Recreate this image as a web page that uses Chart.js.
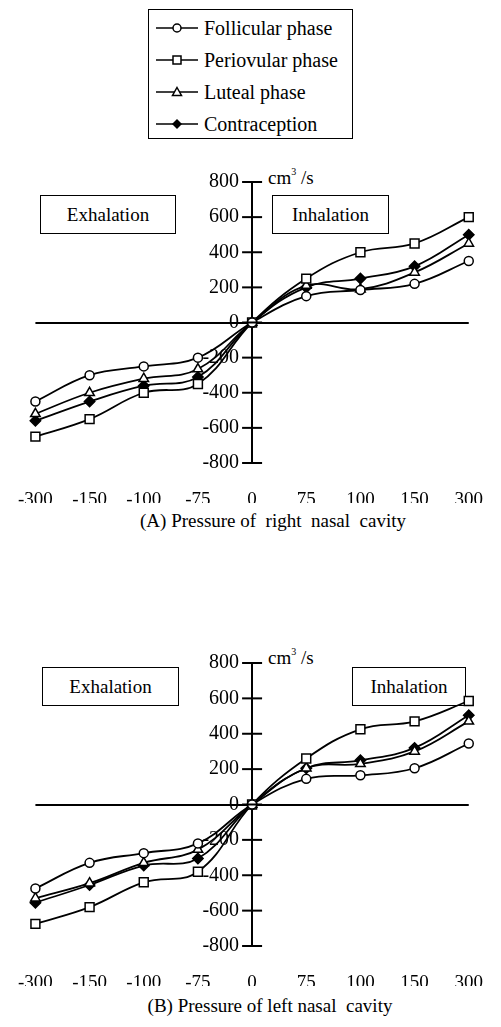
<!DOCTYPE html>
<html>
<head>
<meta charset="utf-8">
<script src="https://cdn.jsdelivr.net/npm/chart.js@4.4.1/dist/chart.umd.min.js"></script>
<style>
  html, body { margin: 0; padding: 0; background: #fff; }
  body { width: 501px; height: 1027px; position: relative; overflow: hidden;
         font-family: "Liberation Serif", "Times New Roman", serif; color: #000; }
  .abs { position: absolute; }
  #legend { left: 148px; top: 9px; width: 203px; height: 128px; border: 1.5px solid #000; }
  .row { position: absolute; left: 6px; height: 24px; display: flex; align-items: center; font-size: 20px; white-space: nowrap; }
  .row svg { margin-right: 5px; }
  .box { border: 1.3px solid #000; font-size: 19px; display: flex; align-items: center; justify-content: center; box-sizing: border-box; }
  .unit { font-size: 19px; white-space: nowrap; }
  .unit sup { font-size: 10px; vertical-align: 9px; }
  .title { font-size: 19px; white-space: pre; transform: translateX(-50%); }
  canvas { position: absolute; left: 0; }
</style>
</head>
<body>
<div id="legend" class="abs"></div>

<div class="abs box" style="left:40px;top:195px;width:136px;height:39px;">Exhalation</div>
<div class="abs box" style="left:272px;top:195px;width:117px;height:39px;">Inhalation</div>
<div class="abs unit" style="left:268px;top:166px;">cm<sup>3</sup> /s</div>
<div class="abs title" style="left:273px;top:510px;">(A) Pressure of  right  nasal  cavity</div>

<div class="abs box" style="left:42px;top:667px;width:137px;height:39px;">Exhalation</div>
<div class="abs box" style="left:352px;top:667px;width:114px;height:39px;">Inhalation</div>
<div class="abs unit" style="left:268px;top:646px;">cm<sup>3</sup> /s</div>
<div class="abs title" style="left:270px;top:995px;">(B) Pressure of left nasal  cavity</div>

<canvas id="cA" width="501" height="365" style="top:150px;width:501px;height:365px;"></canvas>
<canvas id="cB" width="501" height="375" style="top:630px;width:501px;height:375px;"></canvas>

<script>
// ---- data ----
const pressures = ['-300', '-150', '-100', '-75', '0', '75', '100', '150', '300'];
const seriesNames = ['Follicular phase', 'Periovular phase', 'Luteal phase', 'Contraception'];
const yTickMin = -800, yTickMax = 800, yTickStep = 200;

// (A) right nasal cavity
const rightFollicular    = [-450, -300, -250, -200, 0, 150, 185, 220, 350];
const rightPeriovular    = [-650, -550, -400, -350, 0, 250, 400, 450, 600];
const rightLuteal        = [-520, -400, -320, -265, 0, 210, 190, 285, 450];
const rightContraception = [-560, -450, -360, -310, 0, 200, 250, 320, 500];

// (B) left nasal cavity
const leftFollicular    = [-475, -330, -275, -220, 0, 145, 165, 205, 345];
const leftPeriovular    = [-675, -580, -440, -380, 0, 260, 425, 470, 585];
const leftLuteal        = [-530, -445, -330, -255, 0, 205, 230, 300, 470];
const leftContraception = [-555, -455, -345, -305, 0, 205, 250, 320, 505];

// ---- styles ----
const styles = [
  { pointStyle: 'circle',   pointRadius: 4.5, fill: '#fff' },
  { pointStyle: 'rect',     pointRadius: 6.3, fill: '#fff' },
  { pointStyle: 'triangle', pointRadius: 5.5, fill: '#fff' },
  { pointStyle: 'rectRot',  pointRadius: 5.2, fill: '#000' }
];

// legend (HTML)
const legendSvgs = [
  '<circle cx="22" cy="7" r="4" fill="#fff" stroke="#000" stroke-width="1.5"/>',
  '<rect x="18" y="3" width="8" height="8" fill="#fff" stroke="#000" stroke-width="1.5"/>',
  '<polygon points="22,2.5 26.5,10.5 17.5,10.5" fill="#fff" stroke="#000" stroke-width="1.5"/>',
  '<polygon points="22,2 27,7 22,12 17,7" fill="#000"/>'
];
const legendTops = [6, 38, 70, 102];
const legendEl = document.getElementById('legend');
seriesNames.forEach((name, i) => {
  const row = document.createElement('div');
  row.className = 'row';
  row.style.top = legendTops[i] + 'px';
  row.innerHTML = '<svg width="44" height="14" viewBox="0 0 44 14"><line x1="1" y1="7" x2="43" y2="7" stroke="#000" stroke-width="1.6"/>' +
    legendSvgs[i] + '</svg><span>' + name + '</span>';
  legendEl.appendChild(row);
});

const crossTicks = {
  id: 'crossTicks',
  afterDraw(chart) {
    const y = chart.scales.y, x = chart.scales.x;
    const ax = x.getPixelForValue(pressures.indexOf('0'));
    const ctx = chart.ctx;
    ctx.save();
    ctx.strokeStyle = '#000';
    ctx.lineWidth = 2;
    y.ticks.forEach(t => {
      const py = y.getPixelForValue(t.value);
      ctx.beginPath();
      ctx.moveTo(ax - 10, py);
      ctx.lineTo(ax + 10, py);
      ctx.stroke();
    });
    ctx.restore();
  }
};

function makeChart(id, seriesData, pad) {
  const datasets = seriesData.map((d, i) => ({
    label: seriesNames[i],
    data: d,
    borderColor: '#000',
    borderWidth: 1.8,
    tension: 0.4,
    pointStyle: styles[i].pointStyle,
    pointRadius: styles[i].pointRadius,
    pointHoverRadius: styles[i].pointRadius,
    pointBackgroundColor: styles[i].fill,
    pointBorderColor: '#000',
    pointBorderWidth: 1.5,
    fill: false
  }));
  return new Chart(document.getElementById(id), {
    type: 'line',
    data: { labels: pressures, datasets },
    plugins: [crossTicks],
    options: {
      responsive: false,
      animation: false,
      events: [],
      layout: { padding: pad },
      plugins: { legend: { display: false }, tooltip: { enabled: false } },
      scales: {
        x: {
          type: 'category',
          offset: false,
          grid: { display: false },
          border: { display: false },
          ticks: {
            autoSkip: false, maxRotation: 0, color: '#000', padding: 18,
            font: { family: '"Liberation Serif", serif', size: 19 }
          },
          afterFit: s => { s.height = 40; }
        },
        y: {
          position: 'center',
          min: yTickMin, max: yTickMax,
          grid: {
            drawTicks: false,
            lineWidth: 2,
            color: c => (c.tick && c.tick.value === 0) ? '#000' : 'rgba(0,0,0,0)'
          },
          border: { display: true, color: '#000', width: 2 },
          ticks: {
            stepSize: yTickStep, color: '#000', padding: 13,
            font: { family: '"Liberation Serif", serif', size: 20 }
          }
        }
      }
    }
  });
}

makeChart('cA', [rightFollicular, rightPeriovular, rightLuteal, rightContraception],
  { top: 32, left: 30, right: 17, bottom: 12 });
makeChart('cB', [leftFollicular, leftPeriovular, leftLuteal, leftContraception],
  { top: 33, left: 30, right: 17, bottom: 19 });
</script>
</body>
</html>
